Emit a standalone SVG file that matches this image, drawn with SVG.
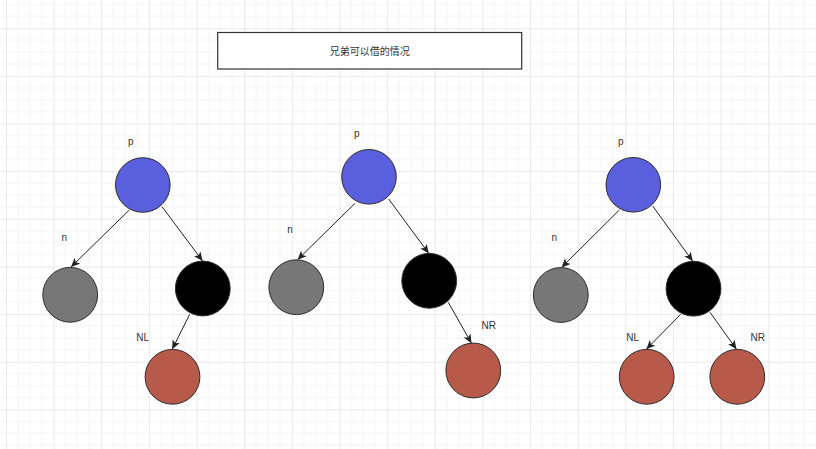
<svg xmlns="http://www.w3.org/2000/svg" width="816" height="449" viewBox="0 0 816 449">
  <defs>
    <pattern id="grid" patternUnits="userSpaceOnUse" x="6" y="28.3" width="47.64" height="47.64">
      <path d="M11.91 0V47.64M23.82 0V47.64M35.73 0V47.64M0 11.91H47.64M0 23.82H47.64M0 35.73H47.64" stroke="#f3f3f3" stroke-width="1" fill="none"/>
      <path d="M0.5 0V47.64M0 0.5H47.64" stroke="#e9e9e9" stroke-width="1" fill="none"/>
    </pattern>
    <marker id="arrow" markerUnits="userSpaceOnUse" markerWidth="12" markerHeight="10" refX="9" refY="4" orient="auto">
      <path d="M0,0 L9,4 L0,8 L2.2,4 z" fill="#222"/>
    </marker>
    <style>
      .node { stroke: #2b2b2b; stroke-width: 1; }
      .blue { fill: #5a5fdd; }
      .grey { fill: #777777; }
      .black { fill: #000000; }
      .red { fill: #b85a4a; }
      .edge { stroke: #222; stroke-width: 1; fill: none; marker-end: url(#arrow); }
      .lbl { font-family: "Liberation Sans", Arial, sans-serif; font-size: 10px; fill: #333; }
      .title { font-family: "Liberation Sans", "Noto Sans CJK SC", sans-serif; font-size: 10px; fill: #333; }
    </style>
  </defs>
  <rect width="816" height="449" fill="#ffffff"/>
  <rect width="816" height="449" fill="url(#grid)"/>

  <g id="title">
    <rect x="217.7" y="32.5" width="304" height="36.5" fill="#ffffff" stroke="#333" stroke-width="1.2"/>
    <text class="title" x="369.7" y="54.5" text-anchor="middle">兄弟可以借的情况</text>
  </g>

  <g id="connectors">
    <line class="edge" x1="129.3" y1="210" x2="71" y2="267"/>
    <line class="edge" x1="162" y1="206.7" x2="202.6" y2="261"/>
    <line class="edge" x1="189.7" y1="314.3" x2="172.2" y2="349.3"/>

    <line class="edge" x1="355" y1="203.3" x2="297.5" y2="259.8"/>
    <line class="edge" x1="388.7" y1="199" x2="428.8" y2="253.5"/>
    <line class="edge" x1="448.3" y1="302.3" x2="471.5" y2="343.3"/>

    <line class="edge" x1="619.3" y1="210" x2="561.5" y2="267.5"/>
    <line class="edge" x1="652.7" y1="206" x2="692.8" y2="261.3"/>
    <line class="edge" x1="680.7" y1="314.3" x2="646.3" y2="349.3"/>
    <line class="edge" x1="710" y1="312.3" x2="736.5" y2="349.3"/>
  </g>

  <g id="tree1-p"><circle class="node blue" cx="142.8" cy="185" r="27.3"/><text class="lbl" x="130.7" y="145" text-anchor="middle">p</text></g>
  <g id="tree1-n"><circle class="node grey" cx="70.2" cy="294.8" r="27.4"/><text class="lbl" x="64.3" y="240.5" text-anchor="middle">n</text></g>
  <g id="tree1-s"><circle class="node black" cx="202.8" cy="288.5" r="27.4"/></g>
  <g id="tree1-nl"><circle class="node red" cx="172.5" cy="376.8" r="27.4"/><text class="lbl" x="142.7" y="341" text-anchor="middle">NL</text></g>

  <g id="tree2-p"><circle class="node blue" cx="369" cy="176.8" r="27.3"/><text class="lbl" x="356.7" y="137.3" text-anchor="middle">p</text></g>
  <g id="tree2-n"><circle class="node grey" cx="296.3" cy="287.2" r="27.4"/><text class="lbl" x="290" y="232.5" text-anchor="middle">n</text></g>
  <g id="tree2-s"><circle class="node black" cx="429.2" cy="280.8" r="27.4"/></g>
  <g id="tree2-nr"><circle class="node red" cx="473.3" cy="370.5" r="27.4"/><text class="lbl" x="488.7" y="329.3" text-anchor="middle">NR</text></g>

  <g id="tree3-p"><circle class="node blue" cx="633.3" cy="184.8" r="27.3"/><text class="lbl" x="620.7" y="145.3" text-anchor="middle">p</text></g>
  <g id="tree3-n"><circle class="node grey" cx="560.8" cy="295" r="27.4"/><text class="lbl" x="554.3" y="240.5" text-anchor="middle">n</text></g>
  <g id="tree3-s"><circle class="node black" cx="693.5" cy="288.7" r="27.4"/></g>
  <g id="tree3-nl"><circle class="node red" cx="646.7" cy="376.8" r="27.4"/><text class="lbl" x="632.7" y="341.3" text-anchor="middle">NL</text></g>
  <g id="tree3-nr"><circle class="node red" cx="737.3" cy="376.8" r="27.4"/><text class="lbl" x="757.7" y="341.3" text-anchor="middle">NR</text></g>
</svg>
